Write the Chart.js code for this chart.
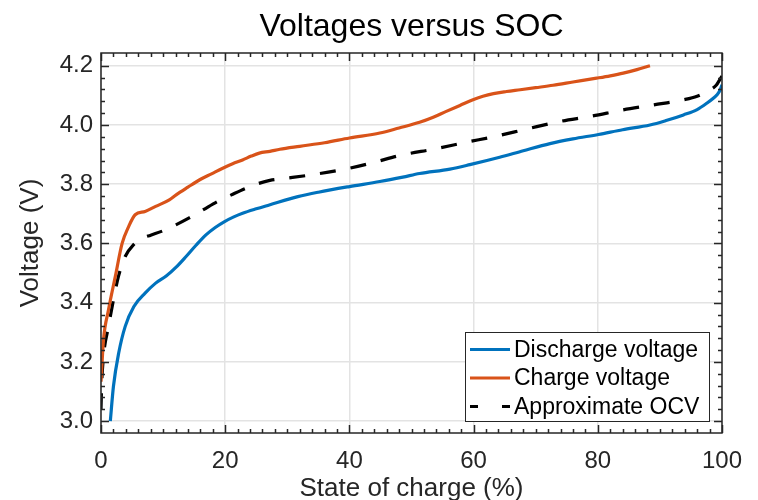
<!DOCTYPE html>
<html>
<head>
<meta charset="utf-8">
<title>Voltages versus SOC</title>
<script src="https://cdn.jsdelivr.net/npm/chart.js"></script>
<style>
  html, body { margin: 0; padding: 0; background: #fff; }
  #wrap { width: 758px; height: 500px; }
</style>
</head>
<body>
<div id="wrap"><canvas id="socChart" width="758" height="500"></canvas></div>
<script>
// discharge curve
const dischargeSoc = [1.5, 2.0, 2.85, 3.9, 5.3, 7.1, 8.8, 10.5, 12.1, 13.7, 15.3, 16.9, 18.4, 19.9, 21.3, 22.8, 25.0, 27.1, 31.7, 35, 40, 44.9, 48.6, 51.3, 56.2, 59.4, 64.2, 68, 72.3, 76, 80.1, 84, 88.4, 91, 93.8, 96, 97.6, 98.6, 99.2, 99.7, 100];
const dischargeV = [3.0, 3.117, 3.23, 3.32, 3.387, 3.432, 3.466, 3.49, 3.52, 3.556, 3.594, 3.629, 3.654, 3.674, 3.689, 3.702, 3.717, 3.73, 3.758, 3.773, 3.792, 3.809, 3.824, 3.836, 3.851, 3.866, 3.891, 3.913, 3.937, 3.953, 3.968, 3.984, 4.0, 4.015, 4.034, 4.052, 4.074, 4.09, 4.102, 4.118, 4.136];

// charge curve
const chargeSoc = [0, 0.4, 1.2, 2.3, 3.4, 4.45, 5.5, 7.1, 8.8, 11.0, 12.1, 14, 15.9, 17.8, 19.6, 21.2, 22.8, 24.2, 25.5, 27.2, 28.8, 32, 36, 40, 44.9, 48, 51.3, 53.5, 55.6, 57.8, 59.9, 61.5, 63.2, 65.3, 67.5, 70, 72.8, 76, 79.8, 82, 84.1, 86.3, 88.4];
const chargeV = [3.133, 3.274, 3.375, 3.488, 3.6, 3.657, 3.697, 3.708, 3.725, 3.747, 3.764, 3.79, 3.815, 3.835, 3.854, 3.869, 3.882, 3.895, 3.905, 3.911, 3.918, 3.928, 3.94, 3.956, 3.973, 3.99, 4.009, 4.026, 4.046, 4.066, 4.085, 4.097, 4.106, 4.113, 4.119, 4.126, 4.134, 4.145, 4.158, 4.166, 4.175, 4.187, 4.2];

// approximate open-circuit voltage
const ocvSoc = [0, 0.1, 0.4, 1.2, 2.0, 2.8, 3.9, 5.3, 6.6, 8, 9.9, 12, 14.2, 16.5, 18.8, 21, 23.4, 25.3, 27.2, 29.8, 34, 40, 44, 48.1, 54, 58.9, 63.4, 68.5, 73.9, 78.8, 84.1, 89, 93.8, 96, 98.1, 99.1, 99.7, 100];
const ocvV = [3.04, 3.12, 3.218, 3.319, 3.409, 3.488, 3.556, 3.597, 3.617, 3.628, 3.642, 3.662, 3.686, 3.714, 3.742, 3.764, 3.787, 3.802, 3.813, 3.82, 3.832, 3.854, 3.874, 3.897, 3.92, 3.942, 3.961, 3.986, 4.012, 4.029, 4.051, 4.068, 4.085, 4.097, 4.119, 4.135, 4.155, 4.165];

const seriesLabels = ['Discharge voltage', 'Charge voltage', 'Approximate OCV'];
const xTicks = [0, 20, 40, 60, 80, 100];
const yTicks = [3.0, 3.2, 3.4, 3.6, 3.8, 4.0, 4.2];

const FONT = '"Liberation Sans", Arial, Helvetica, sans-serif';
const AXIS_COLOR = '#262626';

const toPoints = (xs, ys) => xs.map((x, i) => ({ x: x, y: ys[i] }));

// box around the axes with inward major/minor ticks on all four sides
const axesBox = {
  id: 'axesBox',
  afterDatasetsDraw(chart) {
    const { ctx, chartArea: a, scales } = chart;
    const xs = scales.x, ys = scales.y;
    ctx.save();
    ctx.strokeStyle = AXIS_COLOR;
    ctx.lineWidth = 1.5;
    ctx.beginPath();
    for (let v = 0; v <= 100.001; v += 2) {
      const px = Math.round(xs.getPixelForValue(v)) + 0.5;
      const len = Math.abs(v % 20) < 0.01 ? 8 : 4;
      ctx.moveTo(px, a.bottom); ctx.lineTo(px, a.bottom - len);
      ctx.moveTo(px, a.top); ctx.lineTo(px, a.top + len);
    }
    for (let i = 0; i <= 30; i++) {
      const v = 3.0 + i * 0.04;
      const py = Math.round(ys.getPixelForValue(v)) + 0.5;
      const len = i % 5 === 0 ? 8 : 4;
      ctx.moveTo(a.left, py); ctx.lineTo(a.left + len, py);
      ctx.moveTo(a.right, py); ctx.lineTo(a.right - len, py);
    }
    ctx.stroke();
    ctx.strokeRect(a.left, a.top, a.right - a.left, a.bottom - a.top);
    ctx.restore();
  }
};

// legend box in the lower right corner of the plot
const boxLegend = {
  id: 'boxLegend',
  afterDraw(chart) {
    const { ctx } = chart;
    const x0 = 465.5, y0 = 332.5, w = 244, h = 89;
    ctx.save();
    ctx.fillStyle = '#fff';
    ctx.fillRect(x0, y0, w, h);
    ctx.strokeStyle = AXIS_COLOR;
    ctx.lineWidth = 1;
    ctx.strokeRect(x0, y0, w, h);
    ctx.font = '23px ' + FONT;
    ctx.textBaseline = 'middle';
    ctx.textAlign = 'left';
    chart.data.datasets.forEach((ds, i) => {
      const cy = 349.5 + i * 28.5;
      ctx.strokeStyle = ds.borderColor;
      ctx.lineWidth = 3;
      ctx.setLineDash(ds.borderDash && ds.borderDash.length ? [8, 24] : []);
      ctx.beginPath();
      ctx.moveTo(470, cy);
      ctx.lineTo(510, cy);
      ctx.stroke();
      ctx.setLineDash([]);
      ctx.fillStyle = '#000';
      ctx.fillText(ds.label, 514, cy + 1);
    });
    ctx.restore();
  }
};

new Chart(document.getElementById('socChart').getContext('2d'), {
  type: 'scatter',
  data: {
    datasets: [
      {
        label: seriesLabels[0],
        data: toPoints(dischargeSoc, dischargeV),
        borderColor: '#0072BD',
        borderWidth: 3.2,
        showLine: true,
        pointRadius: 0,
        cubicInterpolationMode: 'monotone',
      },
      {
        label: seriesLabels[1],
        data: toPoints(chargeSoc, chargeV),
        borderColor: '#D95319',
        borderWidth: 3.2,
        showLine: true,
        pointRadius: 0,
        cubicInterpolationMode: 'monotone',
      },
      {
        label: seriesLabels[2],
        data: toPoints(ocvSoc, ocvV),
        borderColor: '#000000',
        borderWidth: 3.2,
        borderDash: [16, 15],
        showLine: true,
        pointRadius: 0,
        cubicInterpolationMode: 'monotone',
      },
    ],
  },
  options: {
    responsive: false,
    animation: false,
    events: [],
    layout: { padding: { left: 0, right: 36, top: 0, bottom: 0 } },
    plugins: {
      legend: { display: false },
      tooltip: { enabled: false },
      title: {
        display: true,
        fullSize: false,
        text: 'Voltages versus SOC',
        color: '#000',
        font: { family: FONT, size: 32, weight: 'normal', lineHeight: 1.2 },
        padding: { top: 8, bottom: 6.6 },
      },
    },
    scales: {
      x: {
        type: 'linear',
        min: 0,
        max: 100,
        afterFit: (s) => { s.height = 67; },
        afterBuildTicks: (s) => { s.ticks = xTicks.map((v) => ({ value: v })); },
        grid: { color: '#e3e3e3', lineWidth: 1.5, drawTicks: false },
        border: { display: false },
        ticks: {
          color: AXIS_COLOR,
          padding: 14,
          maxRotation: 0,
          autoSkip: false,
          font: { family: FONT, size: 24 },
        },
        title: {
          display: true,
          text: 'State of charge (%)',
          color: AXIS_COLOR,
          font: { family: FONT, size: 26, lineHeight: 0.85 },
          padding: { top: 0, bottom: 0 },
        },
      },
      y: {
        type: 'linear',
        min: 2.96,
        max: 4.243,
        afterFit: (s) => { s.width = 101; },
        afterBuildTicks: (s) => { s.ticks = yTicks.map((v) => ({ value: v })); },
        grid: { color: '#e3e3e3', lineWidth: 1.5, drawTicks: false },
        border: { display: false },
        ticks: {
          color: AXIS_COLOR,
          padding: 8,
          autoSkip: false,
          font: { family: FONT, size: 24 },
          callback: (v) => Number(v).toFixed(1),
        },
        title: {
          display: true,
          text: 'Voltage (V)',
          color: AXIS_COLOR,
          font: { family: FONT, size: 26, lineHeight: 1 },
          padding: { top: 18, bottom: 0 },
        },
      },
    },
  },
  plugins: [axesBox, boxLegend],
});
</script>
</body>
</html>
